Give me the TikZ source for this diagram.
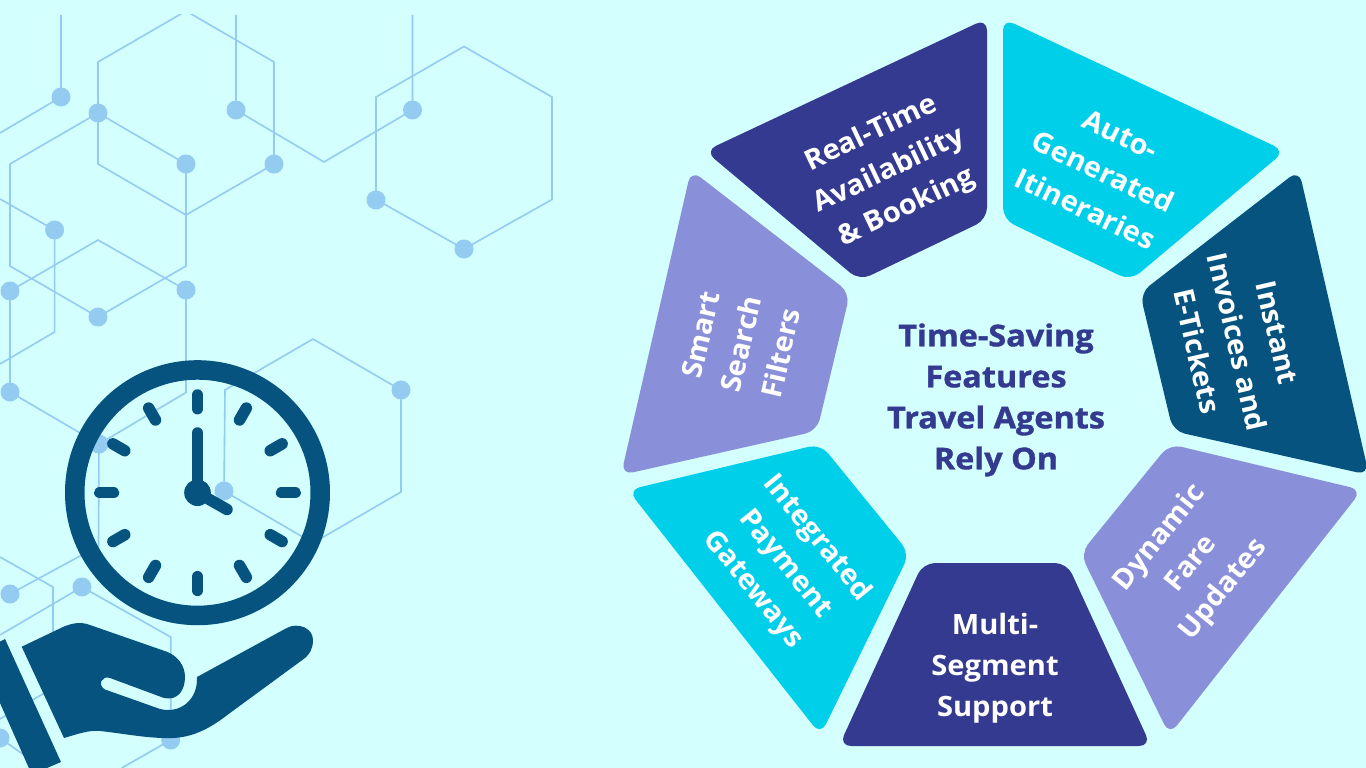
\documentclass[tikz,border=0pt]{standalone}
\usepackage{fontspec}
\setmainfont{Open Sans}
\newfontfamily\lblfont[FakeStretch=1.04]{Open Sans}
\newfontfamily\ttlfont[FakeStretch=1.08,BoldFeatures={FakeBold=1.2}]{Open Sans}
\definecolor{bgc}{HTML}{D3FFFE}
\definecolor{indigoc}{HTML}{353A91}
\definecolor{cyanc}{HTML}{00CFEA}
\definecolor{peric}{HTML}{8A8FD9}
\definecolor{navyc}{HTML}{065380}
\definecolor{linec}{HTML}{94CBF0}
\tikzset{
  hexline/.style={draw=linec,line width=1.6pt,line join=miter},
  dotc/.style={fill=linec},
  petal/.style={rounded corners=12pt},
  lbl/.style={text=white,align=center,font=\fontsize{28}{41}\lblfont\bfseries,inner sep=0pt},
  ttl/.style={text=indigoc,align=center,font=\fontsize{30}{41}\ttlfont\bfseries,inner sep=0pt},
  tick/.style={draw=navyc,line width=11.5pt,line cap=round}
}
\begin{document}
\begin{tikzpicture}[x=1pt,y=-1pt]
\useasboundingbox (0,0) rectangle (1366,768);
\fill[bgc] (0,0) rectangle (1366,768);
\begin{scope}
\clip (0,15) rectangle (1366,768);
\draw[hexline] (61,15)--(61,97)--(0,133);
\draw[hexline] (186,11)--(274,62)--(274,164)--(186,215)--(98,164)--(98,62)--cycle;
\draw[hexline] (98,113)--(186,164)--(186,266)--(98,317)--(10,266)--(10,164)--cycle;
\draw[hexline] (236,15)--(236,110)--(324,162)--(412.5,110)--(412.5,15);
\draw[hexline] (464,46.5)--(552,97)--(552,199.5)--(464,249)--(376,199.5)--(376,97)--cycle;
\draw[hexline] (0,199)--(54.6,230)--(54.6,332)--(0,364);
\draw[hexline] (10,392)--(10,291)--(98,240)--(186,290)--(186,392.5)--(99,444)--(10,392);
\draw[hexline] (99,444)--(98.5,546)--(10,594);
\draw[hexline] (313,339)--(401,390)--(401,492)--(313,543)--(224,491)--(225,390)--cycle;
\draw[hexline] (0,557)--(53,587)--(53,688)--(0,719);
\draw[hexline] (0,635)--(82,587)--(170.7,637)--(170.7,740)--(121.7,768);
\draw[hexline] (0,738)--(34,762);
\foreach \px/\py in {61/97,98/113,186/164,274/164,236/110,412.5/110,376/200,464/249,54.6/230,10/291,186/290,98/317,10/392,401/390,99/444,224/491,10/594,82/587,170.7/740,0/738}
  \fill[dotc] (\px,\py) circle (9.5);
\end{scope}
% clock
\fill[navyc,even odd rule] (197.5,492.7) circle (132.5) (197.5,492.7) circle (113);
\foreach \ang in {0,30,...,330}
  \draw[tick] (197.5,492.7)++(\ang:84)--++(\ang:13.7);
\fill[navyc] (197.5,492.7) circle (13.3);
\draw[tick] (197.5,492.7)--(197.5,433);
\draw[tick] (197.5,492.7)--(227,509.5);
% cuff
\fill[navyc] (0,641.5)--(5,639)--(61,762)--(40,771)--(32,775)--(0,703)--cycle;
% hand
\fill[navyc] (21.7,646.7)--(63,627) .. controls (72,623) and (81,621.5) .. (90,625)
 --(166.7,651.7) .. controls (178,656) and (185,666) .. (185,677)
 .. controls (185,690) and (178,701) .. (164,698)
 --(110,678) .. controls (102,675) and (97,685) .. (105,689.5)
 --(160,709) .. controls (180,714) and (198,700) .. (197,677)
 --(286.7,628) .. controls (298,622) and (313,628) .. (313,640)
 .. controls (313,648) and (310,654) .. (305,658)
 --(230,713) .. controls (212,727) and (195,737) .. (173,738)
 .. controls (150,739) and (120,733) .. (100,731)
 .. controls (88,730) and (78,734) .. (64,738)--cycle;
% petals
\fill[indigoc,petal] (987,18.5)--(987,219.5)--(859.5,280.6)--(705,151)--cycle;
\fill[cyanc,petal] (1003,18.5)--(1003,219.5)--(1130.5,280.6)--(1285,151)--cycle;
\fill[peric,petal] (691,170)--(850,293)--(817,431)--(621,475)--cycle;
\fill[navyc,petal] (1299,170)--(1140,293)--(1173,431)--(1369,475)--cycle;
\fill[cyanc,petal] (820.5,444)--(909.6,553.5)--(820.6,735)--(628,490)--cycle;
\fill[peric,petal] (1169.5,444)--(1080.4,553.5)--(1169.4,735)--(1362,490)--cycle;
\fill[indigoc,rounded corners=12pt] (923,563)--(839,746)--(1151,746)--(1067,563)--cycle;
% labels
\node[lbl,rotate=25.5] (realtime) at (889,171) {Real-Time\\Availability\\\& Booking};
\node[lbl,rotate=-25.5] (auto) at (1103,172) {Auto-\\Generated\\Itineraries};
\node[lbl,rotate=77] (smart) at (741,344) {Smart\\Search\\Filters};
\node[lbl,rotate=-77] (instant) at (1237,342) {Instant\\Invoices and\\E-Tickets};
\node[lbl,rotate=-51] (integrated) at (785,564) {Integrated\\Payment\\Gateways};
\node[lbl,rotate=51] (dynamic) at (1192,564) {Dynamic\\Fare\\Updates};
\node[lbl] (multi) at (995,668) {Multi-\\Segment\\Support};
\node[ttl] (title) at (996,400) {Time-Saving\\Features\\Travel Agents\\Rely On};
\end{tikzpicture}
\end{document}
